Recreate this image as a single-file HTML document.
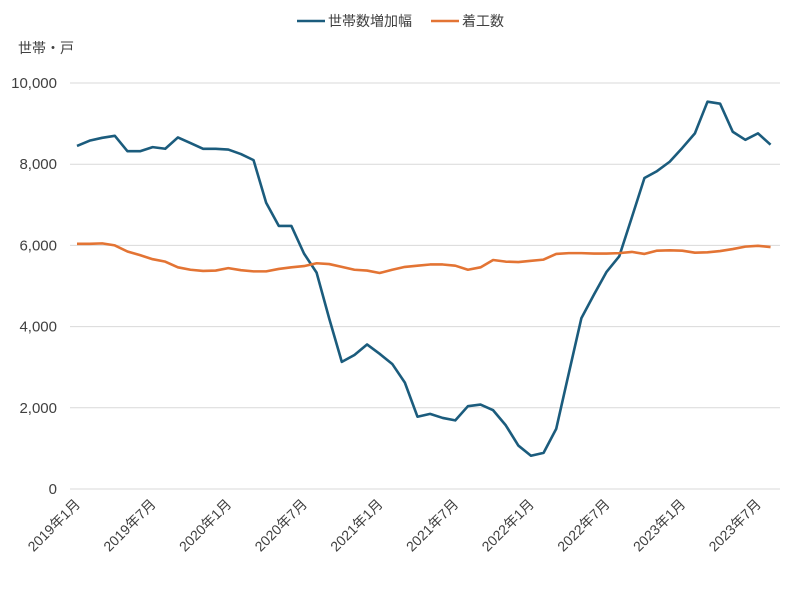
<!DOCTYPE html>
<html><head><meta charset="utf-8"><style>
body{margin:0;background:#fff;font-family:"Liberation Sans","Noto Sans CJK JP",sans-serif;}
svg text{font-family:"Liberation Sans","Noto Sans CJK JP",sans-serif;fill:#404040;}
</style></head><body>
<svg id="c" width="800" height="597"></svg>
<script>
const blueValues=[8450,8580,8650,8700,8320,8320,8420,8380,8660,8520,8380,8380,8360,8250,8100,7050,6480,6480,5800,5330,4200,3130,3300,3560,3330,3080,2620,1780,1850,1750,1690,2040,2080,1940,1570,1070,820,890,1480,2850,4210,4790,5350,5730,6690,7660,7830,8060,8400,8760,9540,9490,8800,8600,8760,8480];
const orangeValues=[6040,6040,6050,6000,5850,5760,5660,5600,5460,5400,5370,5380,5440,5390,5360,5360,5420,5460,5490,5560,5540,5470,5400,5380,5320,5400,5470,5500,5530,5530,5500,5400,5460,5640,5600,5590,5620,5650,5790,5810,5810,5800,5800,5810,5840,5790,5870,5880,5870,5820,5830,5860,5910,5970,5990,5960];
const yTicks=[0,2000,4000,6000,8000,10000];
const xLabels=["2019年1月","2019年7月","2020年1月","2020年7月","2021年1月","2021年7月","2022年1月","2022年7月","2023年1月","2023年7月"];
const seriesNames=["世帯数増加幅","着工数"];
const NS="http://www.w3.org/2000/svg",svg=document.getElementById('c');
const x0=77,dx=12.61,yb=489,yt=83;
const X=i=>x0+i*dx, Y=v=>yb-(v/10000)*(yb-yt);
function mk(t,a,p){const e=document.createElementNS(NS,t);for(const k in a)e.setAttribute(k,a[k]);(p||svg).appendChild(e);return e;}
yTicks.forEach(v=>{
 const l=mk('line',{x1:70,x2:780,y1:Y(v),y2:Y(v),stroke:'#d9d9d9','stroke-width':1});
 
 
 const t=mk('text',{x:57,y:Y(v)+5,'text-anchor':'end','font-size':15});
 t.textContent=v.toLocaleString('en-US');
 
 
});
xLabels.forEach((s,k)=>{
 const xx=X(k*6);
 const t=mk('text',{x:xx+4,y:505,'text-anchor':'end','font-size':14,transform:`rotate(-45 ${xx+4} 505)`});
 t.textContent=s;
 
 
});
[[blueValues,'#1b5c7d','blue-series-line'],[orangeValues,'#e37434','orange-series-line']].forEach(([d,c,n])=>{
 const p=mk('polyline',{points:d.map((v,i)=>X(i)+','+Y(v)).join(' '),fill:'none',stroke:c,'stroke-width':2.6,'stroke-linejoin':'round'});
 
 
});
const ut=mk('text',{x:18,y:53,'font-size':14});ut.textContent='世帯・戸';


[[297,'#1b5c7d'],[431,'#e37434']].forEach(([lx,c],k)=>{
 const g=mk('g',{});
 
 
 mk('line',{x1:lx,x2:lx+28,y1:21,y2:21,stroke:c,'stroke-width':2.6},g);
 const t=mk('text',{x:lx+31,y:26,'font-size':14},g);t.textContent=seriesNames[k];
});
</script>
</body></html>
